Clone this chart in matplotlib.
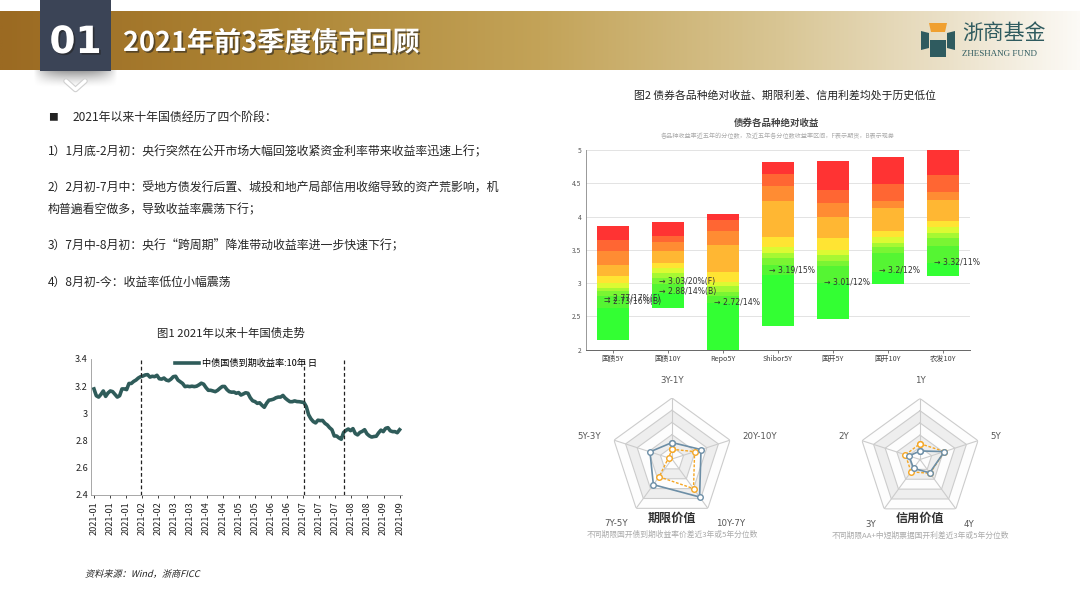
import numpy as np
import matplotlib
matplotlib.use('Agg')
import matplotlib.pyplot as plt
from matplotlib.patches import Polygon, Rectangle, PathPatch
from matplotlib.colors import LinearSegmentedColormap
from matplotlib.textpath import TextPath
from matplotlib.font_manager import FontProperties
from matplotlib.transforms import Affine2D
import matplotlib.patheffects as pe

plt.rcParams['font.family'] = ['Noto Sans CJK SC', 'DejaVu Sans']
plt.rcParams['axes.unicode_minus'] = False

# ---------------- data ----------------
# Fig.1: 10Y CGB yield (daily, Jan-Sep 2021)
cgb10 = [3.18, 3.13, 3.12, 3.14, 3.165, 3.125, 3.15, 3.165, 3.16, 3.14,
         3.12, 3.13, 3.18, 3.18, 3.175, 3.22, 3.22, 3.235, 3.245, 3.26,
         3.27, 3.275, 3.283, 3.285, 3.267, 3.273, 3.27, 3.28, 3.255, 3.252,
         3.26, 3.245, 3.24, 3.252, 3.27, 3.273, 3.245, 3.232, 3.22, 3.197,
         3.2, 3.197, 3.2, 3.197, 3.2, 3.21, 3.222, 3.215, 3.19, 3.17,
         3.17, 3.165, 3.16, 3.17, 3.185, 3.198, 3.198, 3.175, 3.16, 3.156,
         3.157, 3.148, 3.153, 3.135, 3.143, 3.152, 3.148, 3.115, 3.093, 3.087,
         3.074, 3.078, 3.06, 3.045, 3.075, 3.097, 3.10, 3.105, 3.115, 3.12,
         3.12, 3.132, 3.112, 3.098, 3.086, 3.086, 3.092, 3.087, 3.086, 3.083,
         3.08, 3.05, 2.99, 2.96, 2.94, 2.93, 2.95, 2.947, 2.948, 2.927,
         2.915, 2.895, 2.88, 2.834, 2.834, 2.82, 2.81, 2.86, 2.875, 2.885,
         2.873, 2.888, 2.852, 2.842, 2.86, 2.868, 2.88, 2.85, 2.835, 2.826,
         2.83, 2.832, 2.857, 2.877, 2.866, 2.89, 2.895, 2.872, 2.866, 2.866,
         2.858, 2.88]
stage_idx = [20, 90, 107]
month_labels = ['2021-01', '2021-01', '2021-01', '2021-02', '2021-02', '2021-03', '2021-03',
                '2021-04', '2021-04', '2021-05', '2021-05', '2021-06', '2021-06', '2021-07',
                '2021-07', '2021-07', '2021-08', '2021-08', '2021-09', '2021-09']

# Fig.2: percentile bands (10%..100%) of yields over 5 years
bond_cats = ['国债5Y', '国债10Y', 'Repo5Y', 'Shibor5Y', '国开5Y', '国开10Y', '农发10Y']
gz5 = [2.15, 2.63, 2.80, 2.88, 2.93, 3.00, 3.11, 3.27, 3.48, 3.65, 3.86]
gz10 = [2.62, 2.85, 2.98, 3.08, 3.15, 3.22, 3.30, 3.48, 3.62, 3.71, 3.92]
repo5 = [1.95, 2.70, 2.80, 2.87, 2.95, 3.02, 3.16, 3.57, 3.78, 3.95, 4.04]
shibor5 = [2.36, 3.12, 3.27, 3.38, 3.46, 3.55, 3.69, 4.24, 4.46, 4.64, 4.82]
gk5 = [2.46, 3.00, 3.25, 3.34, 3.42, 3.50, 3.68, 3.99, 4.20, 4.40, 4.84]
gk10 = [2.99, 3.17, 3.45, 3.54, 3.60, 3.69, 3.78, 4.13, 4.23, 4.49, 4.89]
nf10 = [3.11, 3.30, 3.56, 3.68, 3.75, 3.84, 3.94, 4.25, 4.37, 4.63, 5.00]
cur_cat = [0, 0, 1, 1, 2, 3, 4, 5, 6]
cur_val = [2.77, 2.73, 3.03, 2.88, 2.72, 3.19, 3.01, 3.20, 3.32]
cur_txt = ['2.77/17%(F)', '2.73/16%(B)', '3.03/20%(F)', '2.88/14%(B)', '2.72/14%',
           '3.19/15%', '3.01/12%', '3.2/12%', '3.32/11%']

# radar 1: term spread percentile
term_labels = ['3Y-1Y', '20Y-10Y', '10Y-7Y', '7Y-5Y', '5Y-3Y']
term_3y = [27, 50, 77, 52, 38]
term_5y = [16, 39, 60, 36, 6]
# radar 2: credit spread percentile
cred_labels = ['1Y', '5Y', '4Y', '3Y', '2Y']
cred_3y = [14, 42, 27, 18, 19]
cred_5y = [26, 42, 28, 25, 25]

band_colors = ['#33ff33', '#55f533', '#7af533', '#a6f833', '#dcfa33',
               '#ffe433', '#ffb733', '#ff8c33', '#ff6633', '#ff3333']

W, H = 1080, 608
fig = plt.figure(figsize=(10.8, 6.08), dpi=100)
bg = fig.add_axes([0, 0, 1, 1], zorder=-5)
bg.axis('off')

def frac_rect(x0, y0, x1, y1):
    return [x0 / W, 1 - y1 / H, (x1 - x0) / W, (y1 - y0) / H]

# ---------------- header ----------------
cmap = LinearSegmentedColormap.from_list('hdr', [(0, '#9b6a22'), (0.25, '#ad8535'), (0.5, '#c3a358'),
                                                 (0.72, '#d8c593'), (0.88, '#ebe1c9'), (1, '#fcfaf6')])
bg.imshow(np.linspace(0, 1, 512).reshape(1, -1), cmap=cmap, extent=(0, W, 70.5, 11.7),
          aspect='auto', zorder=0)
# soft shadow under the tab
sh = np.zeros((40, 60, 4))
vy = np.linspace(1, 0, 40) ** 1.5
vx = 1 - np.abs(np.linspace(-1, 1, 60)) ** 3
sh[..., 3] = 0.42 * vy[:, None] * vx[None, :]
bg.imshow(sh, extent=(33, 118, 88, 70), aspect='auto', zorder=1, interpolation='bilinear')
bg.set_xlim(0, W)
bg.set_ylim(H, 0)
bg.add_patch(Rectangle((40, 0), 71, 71, color='#3b4456', zorder=2, lw=0))
bg.plot([66, 75.5, 85], [81, 89.5, 81], color='#d0d0d0', lw=4.0, zorder=2, solid_capstyle='round')
bg.plot([66, 75.5, 85], [81, 89.5, 81], color='white', lw=2.4, zorder=3, solid_capstyle='round')
shadow = [pe.withSimplePatchShadow(offset=(1.2, -1.2), shadow_rgbFace='#222222', alpha=0.6)]
bg.text(75.5, 43, '01', color='white', fontsize=27, fontweight='bold', ha='center', va='center',
        zorder=4, family=['DejaVu Sans'], path_effects=shadow)
bg.text(123, 43, '2021年前3季度债市回顾', color='white', fontsize=19.5, fontweight='bold',
        ha='left', va='center', zorder=4, path_effects=shadow)

# logo
teal = '#2f5b5f'
bg.add_patch(Polygon([(929, 23), (947, 23), (945, 32), (931, 32)], closed=True, color='#f0a030', zorder=3, lw=0))
bg.add_patch(Polygon([(921, 31), (929, 33), (929, 48), (921, 50)], closed=True, color=teal, zorder=3, lw=0))
bg.add_patch(Polygon([(947, 33), (955, 31), (955, 50), (947, 48)], closed=True, color=teal, zorder=3, lw=0))
bg.add_patch(Polygon([(930, 40), (946, 40), (946, 57), (930, 57)], closed=True, color=teal, zorder=3, lw=0))
bg.text(962, 33, '浙商基金', color=teal, fontsize=15, ha='left', va='center', zorder=4)
bg.text(962, 54, 'ZHESHANG FUND', color=teal, fontsize=6.5, ha='left', va='center', zorder=4,
        family=['Liberation Serif'])

# ---------------- left text ----------------
tc = '#262626'
fs = 8.6
bg.text(48, 117, '■', color='#222222', fontsize=7, ha='left', va='center')
bg.text(73, 117, '2021年以来十年国债经历了四个阶段：', color=tc, fontsize=fs, ha='left', va='center')
bg.text(48, 152, '1）1月底-2月初：央行突然在公开市场大幅回笼收紧资金利率带来收益率迅速上行；',
        color=tc, fontsize=fs, ha='left', va='center')
bg.text(48, 188, '2）2月初-7月中：受地方债发行后置、城投和地产局部信用收缩导致的资产荒影响，机',
        color=tc, fontsize=fs, ha='left', va='center')
bg.text(48, 210, '构普遍看空做多，导致收益率震荡下行；', color=tc, fontsize=fs, ha='left', va='center')
bg.text(48, 246, '3）7月中-8月初：央行“跨周期”降准带动收益率进一步快速下行；',
        color=tc, fontsize=fs, ha='left', va='center')
bg.text(48, 282, '4）8月初-今：收益率低位小幅震荡', color=tc, fontsize=fs, ha='left', va='center')

# ---------------- Fig 1: line chart ----------------
bg.text(231, 333, '图1 2021年以来十年国债走势', color='#222222', fontsize=8.2, ha='center', va='center')
ax1 = fig.add_axes(frac_rect(90.7, 359, 401.7, 495))
x = np.arange(len(cgb10))
ax1.plot(x, cgb10, color='#2f5c5a', lw=2.6, label='中债国债到期收益率:10年 日', solid_joinstyle='round')
for s in stage_idx:
    ax1.axvline(s, color='#222222', lw=0.9, ls=(0, (3, 2)))
ax1.set_ylim(2.4, 3.4)
ax1.set_xlim(-1.4, len(cgb10) - 0.1)
ax1.set_yticks([2.4, 2.6, 2.8, 3.0, 3.2, 3.4])
ax1.set_yticklabels(['2.4', '2.6', '2.8', '3', '3.2', '3.4'])
ax1.set_xticks(np.linspace(0, len(cgb10) - 1, len(month_labels)))
ax1.set_xticklabels(month_labels, rotation=90)
ax1.tick_params(axis='both', labelsize=6.6, colors='#222222', length=2.5, width=0.6, pad=2)
ax1.tick_params(axis='y', length=0)
for sp in ['top', 'right']:
    ax1.spines[sp].set_visible(False)
ax1.spines['left'].set_color('#999999')
ax1.spines['bottom'].set_color('#999999')
ax1.spines['left'].set_linewidth(0.6)
ax1.spines['bottom'].set_linewidth(0.6)
leg = ax1.legend(loc='upper center', bbox_to_anchor=(0.5, 1.06), frameon=False, fontsize=6.6,
                 handlelength=2.6, handletextpad=0.4)

# italic (oblique) source note
src_fs = 6.6
tp = TextPath((0, 0), '资料来源：Wind，浙商FICC', size=src_fs,
              prop=FontProperties(family='Noto Sans CJK SC'))
tr = Affine2D().skew_deg(14, 0).scale(100 / 72, -100 / 72).translate(85, 577)
bg.add_patch(PathPatch(tr.transform_path(tp), color='#222222', lw=0, zorder=3))

# ---------------- Fig 2: stacked percentile bars ----------------
bg.text(785, 96, '图2 债券各品种绝对收益、期限利差、信用利差均处于历史低位', color='#222222',
        fontsize=7.8, ha='center', va='center')
bg.text(777, 122.5, '债券各品种绝对收益', color='#444444', fontsize=6.8, fontweight='bold',
        ha='center', va='center')
bg.text(778, 136.5, '各品种收益率近五年的分位数，及近五年各分位数收益率区间，F表示期货，B表示现券',
        color='#aaaaaa', fontsize=4.4, ha='center', va='center')
ax2 = fig.add_axes(frac_rect(585.5, 150, 970.5, 349.7))
bars = [gz5, gz10, repo5, shibor5, gk5, gk10, nf10]
xc = np.arange(len(bond_cats))
for i, edges in enumerate(bars):
    e = np.array(edges)
    ax2.bar(np.full(10, xc[i]), e[1:] - e[:-1], bottom=e[:-1], width=0.59,
            color=band_colors, lw=0, zorder=2)
for c, v, t in zip(cur_cat, cur_val, cur_txt):
    ax2.text(xc[c] - 0.16, v, '→ ' + t, fontsize=5.6, color='#333333', ha='left', va='center',
             family=['DejaVu Sans', 'Noto Sans CJK SC'], zorder=3)
ax2.set_ylim(2, 5)
ax2.set_xlim(-0.5, len(bond_cats) - 0.5)
ax2.set_yticks([2, 2.5, 3, 3.5, 4, 4.5, 5])
ax2.set_yticklabels(['2', '2.5', '3', '3.5', '4', '4.5', '5'])
ax2.set_xticks(xc)
ax2.set_xticklabels(bond_cats)
ax2.grid(axis='y', color='#e3e3e3', lw=0.7, zorder=0)
ax2.tick_params(axis='y', labelsize=4.8, colors='#555555', length=0, pad=3)
ax2.tick_params(axis='x', labelsize=5.2, colors='#444444', length=2, width=0.5, pad=2)
for sp in ['top', 'right']:
    ax2.spines[sp].set_visible(False)
ax2.spines['left'].set_color('#888888')
ax2.spines['bottom'].set_color('#666666')
ax2.spines['left'].set_linewidth(0.6)
ax2.spines['bottom'].set_linewidth(0.7)

# ---------------- radars ----------------
def radar(cx, cy, R, labels, s1, s2, title, sub):
    ax = fig.add_axes(frac_rect(cx - R, cy - R, cx + R, cy + R), projection='polar')
    ax.set_theta_zero_location('N')
    ax.set_theta_direction(-1)
    ax.set_ylim(0, 100)
    ax.axis('off')
    n = len(labels)
    th = np.arange(n) * 2 * np.pi / n
    thc = np.append(th, th[0])
    levels = [100, 80, 60, 40, 20]
    fills = ['#fdfdfd', '#eeeeee', '#fdfdfd', '#eeeeee', '#fdfdfd']
    for lv, fc in zip(levels, fills):
        ax.fill(thc, [lv] * (n + 1), color=fc, lw=0, zorder=1)
        ax.plot(thc, [lv] * (n + 1), color='#cccccc', lw=0.8, zorder=2)
    for t in th:
        ax.plot([t, t], [0, 100], color='#cccccc', lw=0.8, zorder=2)
    ax.plot(thc, np.append(s2, s2[0]), color='#f5a623', lw=1.0, ls=(0, (2, 1.2)), zorder=3,
            marker='o', ms=4, mfc='white', mec='#f5a623', mew=1.0)
    ax.plot(thc, np.append(s1, s1[0]), color='#6c8ea6', lw=1.2, zorder=4,
            marker='o', ms=4, mfc='white', mec='#6c8ea6', mew=1.0)
    for t, lab in zip(th, labels):
        s, c = np.sin(t), np.cos(t)
        ha = 'center' if abs(s) < 0.1 else ('left' if s > 0 else 'right')
        va = 'bottom' if c > 0.9 else ('top' if c < -0.5 else 'center')
        ax.text(t, 122, lab, ha=ha, va=va, fontsize=6.2, color='#555555', clip_on=False,
                family=['DejaVu Sans', 'Noto Sans CJK SC'])
    bg.text(cx, cy + 59, title, fontsize=8.7, fontweight='bold', color='#333333', ha='center', va='center')
    bg.text(cx, cy + 76, sub, fontsize=5.6, color='#aaaaaa', ha='center', va='center')

radar(672, 459, 61, term_labels, term_3y, term_5y, '期限价值', '不同期限国开债到期收益率价差近3年或5年分位数')
radar(920, 459.5, 61, cred_labels, cred_3y, cred_5y, '信用价值', '不同期限AA+中短期票据国开利差近3年或5年分位数')

fig.savefig('out.png', dpi=100)
